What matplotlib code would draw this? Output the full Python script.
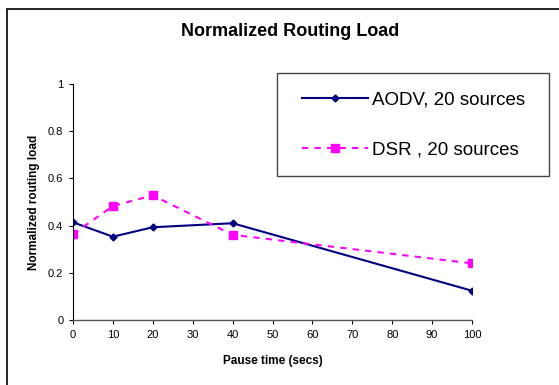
import matplotlib
matplotlib.use("Agg")
import matplotlib.pyplot as plt
from matplotlib.patches import Rectangle

plt.rcParams['font.family'] = ['Liberation Sans', 'DejaVu Sans']

pause_time = [0, 10, 20, 40, 100]
aodv_load = [0.414, 0.353, 0.393, 0.410, 0.124]
dsr_load = [0.364, 0.483, 0.528, 0.361, 0.240]
x_ticks = [0, 10, 20, 30, 40, 50, 60, 70, 80, 90, 100]
y_ticks = [0, 0.2, 0.4, 0.6, 0.8, 1]
y_tick_labels = ['0', '0.2', '0.4', '0.6', '0.8', '1']

W, H = 559, 385
fig = plt.figure(figsize=(W / 100, H / 100), dpi=100)
ax = fig.add_axes([73 / W, (H - 320) / H, (472 - 73) / W, (320 - 84) / H])

ax.plot(pause_time, aodv_load, color='#000080', lw=1.5, marker='D',
        markersize=3.5, label='AODV, 20 sources')
ax.plot(pause_time, dsr_load, color='#FF00FF', lw=1.5, ls=(0, (3, 3)),
        marker='s', markersize=5.5, label='DSR , 20 sources')

ax.set_xlim(0, 100)
ax.set_ylim(0, 1)
ax.set_xticks(x_ticks)
ax.set_yticks(y_ticks)
ax.set_yticklabels(y_tick_labels)
ax.tick_params(direction='out', length=3, width=0.8, labelsize=8, pad=4)
for s in ['top', 'right']:
    ax.spines[s].set_visible(False)
ax.spines['left'].set_linewidth(0.8)
ax.spines['bottom'].set_color('#555555')
ax.spines['bottom'].set_linewidth(1.0)
ax.patch.set_visible(False)

ax.set_xlabel('Pause time (secs)', fontsize=8.5, fontweight='bold', labelpad=11)
ax.set_ylabel('Normalized routing load', fontsize=8.5, fontweight='bold', labelpad=6)
fig.text(290 / W, 1 - 32 / H, 'Normalized Routing Load', fontsize=13,
         fontweight='bold', ha='center', va='center')

# legend box drawn separately so its padding matches the original
fig.patches.append(Rectangle((277 / W, 1 - 176 / H), (549 - 277) / W, (176 - 73) / H,
                             transform=fig.transFigure, fill=False,
                             edgecolor='#444444', lw=1.0))
leg = fig.legend(loc='center left', bbox_to_anchor=(302 / W, 1 - 125 / H),
                 fontsize=13.5, frameon=False,
                 handlelength=3.5, handletextpad=0.25, labelspacing=1.75,
                 borderpad=0, borderaxespad=0)

# outer chart border (left and top edges visible)
fig.patches.append(Rectangle((7 / W, -0.5), 2, 0.5 + 1 - 9 / H,
                             transform=fig.transFigure, fill=False,
                             edgecolor='black', lw=1.2))

fig.savefig('out.png', dpi=100)
